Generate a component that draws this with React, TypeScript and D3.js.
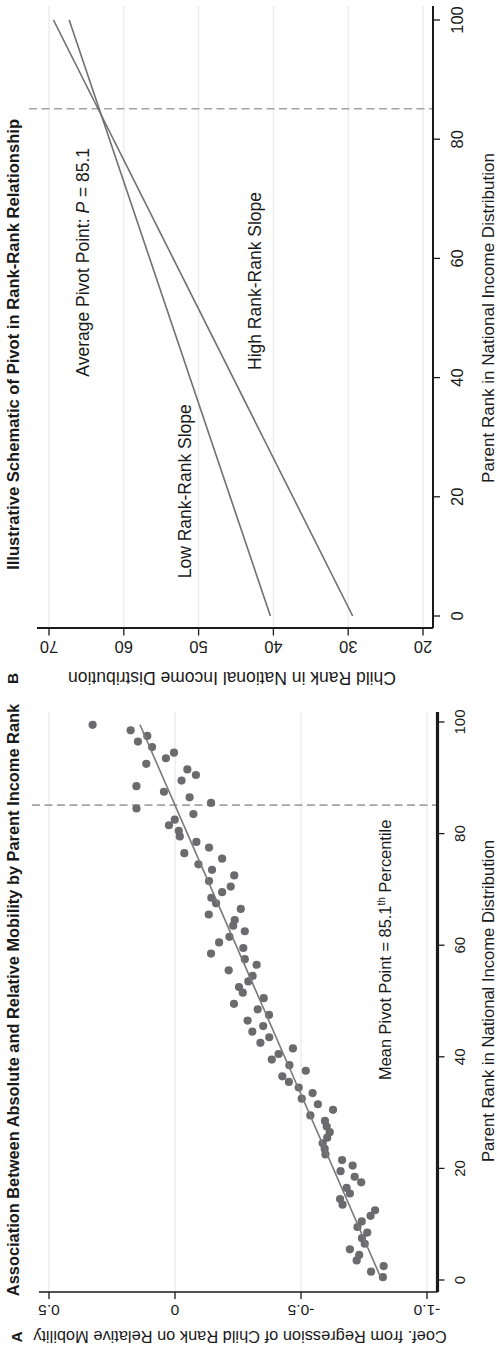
// Libraries
import { useEffect, useRef } from 'react';
import * as d3 from 'd3';

const W = 497;
const H = 1352;
const font = '"Liberation Sans", Arial, Helvetica, sans-serif';
const ink = '#1a1a1a';

// ---- Panel A data: coefficient by parent percentile ----
const parentRanks = [
  0.5, 1.5, 2.5, 3.5, 4.5, 5.5, 6.5, 7.5, 8.5, 9.5,
  10.5, 11.5, 12.5, 13.5, 14.5, 15.5, 16.5, 17.5, 18.5, 19.5,
  20.5, 21.5, 22.5, 23.5, 24.5, 25.5, 26.5, 27.5, 28.5, 29.5,
  30.5, 31.5, 32.5, 33.5, 34.5, 35.5, 36.5, 37.5, 38.5, 39.5,
  40.5, 41.5, 42.5, 43.5, 44.5, 45.5, 46.5, 47.5, 48.5, 49.5,
  50.5, 51.5, 52.5, 53.5, 54.5, 55.5, 56.5, 57.5, 58.5, 59.5,
  60.5, 61.5, 62.5, 63.5, 64.5, 65.5, 66.5, 67.5, 68.5, 69.5,
  70.5, 71.5, 72.5, 73.5, 74.5, 75.5, 76.5, 77.5, 78.5, 79.5,
  80.5, 81.5, 82.5, 83.5, 84.5, 85.5, 86.5, 87.5, 88.5, 89.5,
  90.5, 91.5, 92.5, 93.5, 94.5, 95.5, 96.5, 97.5, 98.5, 99.5
];

const relMobilityCoef = [
  -0.825, -0.778, -0.828, -0.721, -0.731, -0.694, -0.753, -0.742, -0.763, -0.724,
  -0.741, -0.776, -0.794, -0.665, -0.655, -0.694, -0.681, -0.739, -0.713, -0.657,
  -0.705, -0.663, -0.597, -0.594, -0.586, -0.604, -0.614, -0.602, -0.595, -0.537,
  -0.627, -0.567, -0.503, -0.546, -0.491, -0.452, -0.426, -0.519, -0.454, -0.384,
  -0.411, -0.468, -0.339, -0.374, -0.307, -0.350, -0.288, -0.373, -0.328, -0.234,
  -0.352, -0.269, -0.254, -0.291, -0.308, -0.213, -0.324, -0.277, -0.143, -0.271,
  -0.175, -0.216, -0.277, -0.231, -0.237, -0.134, -0.261, -0.163, -0.144, -0.187,
  -0.221, -0.135, -0.235, -0.147, -0.093, -0.187, -0.037, -0.135, -0.085, -0.019,
  -0.015, 0.024, 0.001, -0.073, 0.153, -0.143, -0.058, 0.044, 0.153, -0.026,
  -0.083, -0.049, 0.114, 0.036, 0.004, 0.091, 0.147, 0.110, 0.176, 0.327
];

// fitted line endpoints
const fitRanks = [0.5, 99.5];
const fitCoef = [-0.816, 0.139];

const pivot = 85.1;

// ---- Panel B data: schematic lines ----
const schemRanks = [0, 100];
const lowSlopeChild = [40.4, 67.3];
const highSlopeChild = [29.4, 69.4];

// ---- ticks ----
const parentTicks = [0, 20, 40, 60, 80, 100];
const coefTicks = [0.5, 0, -0.5, -1.0];
const coefTickLabels = ['0.5', '0', '-0.5', '-1.0'];
const childTicks = [70, 60, 50, 40, 30, 20];

type G = d3.Selection<SVGGElement, unknown, null, undefined>;

function addText(g: G, txt: string, x: number, y: number, size: number, opts: any = {}) {
  const t = g.append('text')
    .attr('x', x)
    .attr('y', y)
    .attr('font-family', font)
    .attr('font-size', size)
    .attr('fill', ink)
    .attr('text-anchor', opts.anchor || 'start')
    .text(txt);
  if (opts.bold) t.attr('font-weight', 'bold');
  if (opts.rotate) t.attr('transform', `rotate(-90, ${x}, ${y})`);
  return t;
}

function drawPanelA(g: G) {
  const x = d3.scaleLinear().domain([0, 100]).range([72, 630]);
  const y = d3.scaleLinear().domain([-1, 0.5]).range([427, 49]);
  const frame = { left: 60, right: 640, top: 39, bottom: 437.5 };

  // gridlines
  g.append('g').selectAll('line')
    .data(coefTicks)
    .join('line')
    .attr('x1', frame.left).attr('x2', frame.right)
    .attr('y1', d => y(d)).attr('y2', d => y(d))
    .attr('stroke', '#ebebeb').attr('stroke-width', 1.3);

  // pivot
  g.append('line')
    .attr('x1', x(pivot)).attr('x2', x(pivot))
    .attr('y1', 32).attr('y2', frame.bottom)
    .attr('stroke', '#a3a3a3').attr('stroke-width', 1.6)
    .attr('stroke-dasharray', '8,4.5');

  // dots
  g.append('g').selectAll('circle')
    .data(parentRanks)
    .join('circle')
    .attr('cx', d => x(d))
    .attr('cy', (d, i) => y(relMobilityCoef[i]))
    .attr('r', 4.1)
    .attr('fill', '#6b6b6e');

  // fit line
  const line = d3.line<number>()
    .x(d => x(d))
    .y((d, i) => y(fitCoef[i]));
  g.append('path')
    .attr('d', line(fitRanks))
    .attr('fill', 'none')
    .attr('stroke', '#7a7a7a')
    .attr('stroke-width', 1.6);

  // axes
  g.append('line')
    .attr('x1', frame.left).attr('x2', frame.left)
    .attr('y1', frame.top).attr('y2', frame.bottom)
    .attr('stroke', ink).attr('stroke-width', 1.6);
  g.append('line')
    .attr('x1', frame.left).attr('x2', frame.right)
    .attr('y1', frame.bottom).attr('y2', frame.bottom)
    .attr('stroke', ink).attr('stroke-width', 3.2);

  g.append('g').selectAll('line')
    .data(parentTicks)
    .join('line')
    .attr('x1', d => x(d)).attr('x2', d => x(d))
    .attr('y1', frame.bottom).attr('y2', frame.bottom + 7)
    .attr('stroke', ink).attr('stroke-width', 1.3);
  parentTicks.forEach(d => addText(g, String(d), x(d), 464.5, 15, { anchor: 'middle' }));

  g.append('g').selectAll('line')
    .data(coefTicks)
    .join('line')
    .attr('x1', frame.left).attr('x2', frame.left - 7)
    .attr('y1', d => y(d)).attr('y2', d => y(d))
    .attr('stroke', ink).attr('stroke-width', 1.3);
  coefTicks.forEach((d, i) => addText(g, coefTickLabels[i], 47.5, y(d), 15.5, { anchor: 'middle', rotate: true }));

  // titles
  addText(g, 'A', 15, 22, 15.5, { anchor: 'middle', bold: true });
  addText(g, 'Association Between Absolute and Relative Mobility by Parent Income Rank', 352, 18.5, 16.4, { anchor: 'middle', bold: true });
  addText(g, 'Coef. from Regression of Child Rank on Relative Mobility', 21, 240, 16.4, { anchor: 'middle', rotate: true });
  addText(g, 'Parent Rank in National Income Distribution', x(50), 493.5, 16.6, { anchor: 'middle' });

  const note = addText(g, 'Mean Pivot Point = 85.1', 272, 391, 16.4);
  note.append('tspan').attr('font-size', 10).attr('dy', -6.5).text('th');
  note.append('tspan').attr('dy', 6.5).text(' Percentile');
}

function drawPanelB(g: G) {
  const x = d3.scaleLinear().domain([0, 100]).range([736, 1332]);
  const y = d3.scaleLinear().domain([20, 70]).range([423, 49]);
  const frame = { left: 724, right: 1346, top: 37, bottom: 433 };

  g.append('g').selectAll('line')
    .data(childTicks)
    .join('line')
    .attr('x1', frame.left).attr('x2', frame.right)
    .attr('y1', d => y(d)).attr('y2', d => y(d))
    .attr('stroke', '#ebebeb').attr('stroke-width', 1.3);

  g.append('line')
    .attr('x1', x(pivot)).attr('x2', x(pivot))
    .attr('y1', 29).attr('y2', frame.bottom)
    .attr('stroke', '#a3a3a3').attr('stroke-width', 1.6)
    .attr('stroke-dasharray', '8,4.5');

  [lowSlopeChild, highSlopeChild].forEach(vals => {
    const line = d3.line<number>()
      .x(d => x(d))
      .y((d, i) => y(vals[i]));
    g.append('path')
      .attr('d', line(schemRanks))
      .attr('fill', 'none')
      .attr('stroke', '#707070')
      .attr('stroke-width', 1.6);
  });

  g.append('line')
    .attr('x1', frame.left).attr('x2', frame.left)
    .attr('y1', frame.top).attr('y2', frame.bottom)
    .attr('stroke', ink).attr('stroke-width', 1.8);
  g.append('line')
    .attr('x1', frame.left).attr('x2', frame.right)
    .attr('y1', frame.bottom).attr('y2', frame.bottom)
    .attr('stroke', ink).attr('stroke-width', 2);

  g.append('g').selectAll('line')
    .data(parentTicks)
    .join('line')
    .attr('x1', d => x(d)).attr('x2', d => x(d))
    .attr('y1', frame.bottom).attr('y2', frame.bottom + 7)
    .attr('stroke', ink).attr('stroke-width', 1.3);
  parentTicks.forEach(d => addText(g, String(d), x(d), 463, 16.5, { anchor: 'middle' }));

  g.append('g').selectAll('line')
    .data(childTicks)
    .join('line')
    .attr('x1', frame.left).attr('x2', frame.left - 7.5)
    .attr('y1', d => y(d)).attr('y2', d => y(d))
    .attr('stroke', ink).attr('stroke-width', 1.3);
  childTicks.forEach(d => addText(g, String(d), 711, y(d), 16.5, { anchor: 'middle', rotate: true }));

  addText(g, 'B', 673.5, 17.5, 15.5, { anchor: 'middle', bold: true });
  addText(g, 'Illustrative Schematic of Pivot in Rank-Rank Relationship', 1007.6, 18.5, 16.6, { anchor: 'middle', bold: true });
  addText(g, 'Child Rank in National Income Distribution', 680, 232, 17.5, { anchor: 'middle', rotate: true });
  addText(g, 'Parent Rank in National Income Distribution', x(50), 493.5, 17, { anchor: 'middle' });

  const avg = addText(g, 'Average Pivot Point: ', 975.3, 89, 17.5);
  avg.append('tspan').attr('font-style', 'italic').text('P');
  avg.append('tspan').text(' = 85.1');
  addText(g, 'High Rank-Rank Slope', 982, 260.5, 17.5);
  addText(g, 'Low Rank-Rank Slope', 773.7, 191, 17.5);
}

export default function App() {
  const ref = useRef<SVGSVGElement>(null);

  useEffect(() => {
    document.body.style.margin = '0';
    const svg = d3.select(ref.current);
    svg.selectAll('*').remove();
    // the figure is laid out landscape and turned a quarter turn
    const g = svg.append('g').attr('transform', `translate(0,${H}) rotate(-90)`) as unknown as G;
    drawPanelA(g);
    drawPanelB(g);
  }, []);

  return (
    <svg ref={ref} width={W} height={H} style={{ display: 'block', background: '#fff' }} />
  );
}
